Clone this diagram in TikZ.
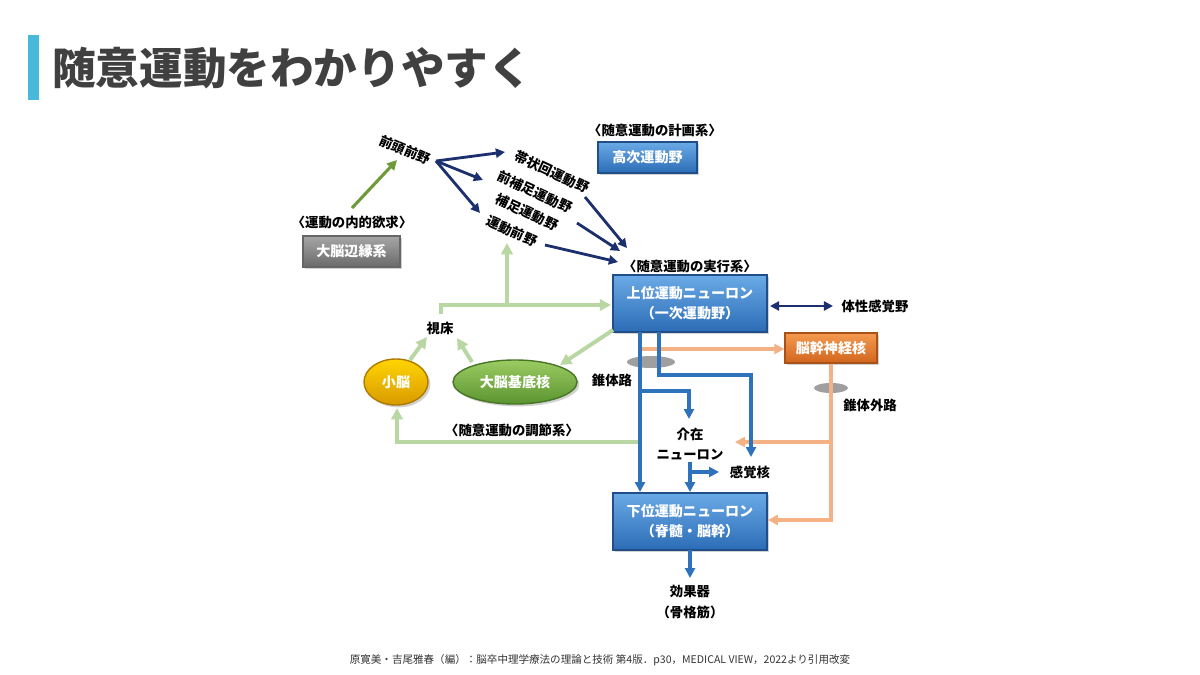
\documentclass[tikz,border=0pt]{standalone}
\usepackage{fontspec}
\setmainfont{Noto Sans CJK JP}
\usetikzlibrary{arrows.meta,shapes.geometric,shadows}
\definecolor{navy}{HTML}{1C2F6E}
\definecolor{bline}{HTML}{2E72BC}
\definecolor{oline}{HTML}{F4B183}
\definecolor{gline}{HTML}{B9D7A3}
\definecolor{dgreen}{HTML}{6E9A3A}
\definecolor{titlegray}{HTML}{404040}
\definecolor{barblue}{HTML}{48B9DA}
\definecolor{bordblue}{HTML}{1F4E89}
\definecolor{HTMLblueTop}{HTML}{6AAAE6}
\definecolor{HTMLblueBot}{HTML}{2C6CB6}
\definecolor{grayTop}{HTML}{A6A6A6}
\definecolor{grayBot}{HTML}{6A6A6A}
\definecolor{orTop}{HTML}{F49A50}
\definecolor{orBot}{HTML}{D2661E}
\definecolor{yeTop}{HTML}{FFD400}
\definecolor{yeBot}{HTML}{D89A00}
\definecolor{grTop}{HTML}{9CCB62}
\definecolor{grBot}{HTML}{5A9430}
\tikzset{
  lbl/.style={font=\fontsize{9.5}{11}\selectfont\bfseries, text=black, inner sep=1pt, align=center},
  rlbl/.style={lbl, inner sep=0pt},
  boxbase/.style={draw, line width=1pt, text=white, font=\fontsize{10}{14}\selectfont\bfseries, align=center, inner sep=0pt,
    drop shadow={opacity=0.35, shadow xshift=0.6mm, shadow yshift=-0.6mm}},
  bluebox/.style={boxbase, draw=bordblue, top color=HTMLblueTop, bottom color=HTMLblueBot},
  navyarr/.style={draw=navy, line width=2pt, -{Triangle[length=6.5pt,width=6.5pt]}},
  blarr/.style={draw=bline, line width=2.3pt, -{Triangle[length=7pt,width=7pt]}},
  orarr/.style={draw=oline, line width=2.3pt, -{Triangle[length=7pt,width=7pt]}},
  grarr/.style={draw=gline, line width=2.8pt, -{Triangle[length=8pt,width=8pt]}},
}
\begin{document}
\begin{tikzpicture}[x=0.025cm,y=-0.025cm]
\useasboundingbox (0,0) rectangle (1200,675);
\fill[white] (0,0) rectangle (1200,675);

% title
\fill[barblue] (28,35) rectangle (39,100);
\node[anchor=west, text=titlegray, font=\fontsize{31}{36}\selectfont\bfseries, inner sep=0pt] (title) at (52,68) {随意運動をわかりやすく};

% footer
\node[font=\fontsize{7.5}{9}\selectfont, text=black!80, inner sep=0pt] (foot) at (600,660) {原寛美・吉尾雅春（編）：脳卒中理学療法の理論と技術 第4版．p30，MEDICAL VIEW，2022より引用改変};

% boxes
\node[bluebox, minimum width=2.475cm, minimum height=0.775cm] (koji) at (647.5,157.5) {高次運動野};
\node[lbl] (keikaku) at (655,130) {〈随意運動の計画系〉};

\node[boxbase, draw=black!60, top color=grayTop, bottom color=grayBot, minimum width=2.425cm, minimum height=0.775cm] (hen) at (351.5,251.5) {大脳辺縁系};
\node[lbl] (yokkyu) at (352,222) {〈運動の内的欲求〉};

\node[bluebox, minimum width=3.85cm, minimum height=1.425cm] (upper) at (690,303.5) {上位運動ニューロン\\（一次運動野）};
\node[lbl] (jikko) at (690,266) {〈随意運動の実行系〉};

\node[bluebox, minimum width=3.85cm, minimum height=1.425cm] (lower) at (690,521.5) {下位運動ニューロン\\（脊髄・脳幹）};

\node[boxbase, draw=orBot!80!black, top color=orTop, bottom color=orBot, minimum width=2.3cm, minimum height=0.75cm] (nokan) at (831,348) {脳幹神経核};

\node[boxbase, ellipse, draw=yeBot!80!black, top color=yeTop, bottom color=yeBot, minimum width=1.6cm, minimum height=1.15cm] (shono) at (396,382) {小脳};
\node[boxbase, ellipse, draw=grBot!80!black, top color=grTop, bottom color=grBot, minimum width=3.1cm, minimum height=1.1cm] (kitei) at (515,382) {大脳基底核};

% labels
\node[rlbl, rotate=-23] (zento) at (405,150) {前頭前野};
\node[rlbl, rotate=-25] (taijo) at (552,172) {帯状回運動野};
\node[rlbl, rotate=-25] (zenho) at (535,192) {前補足運動野};
\node[rlbl, rotate=-25] (hosoku) at (527,212) {補足運動野};
\node[rlbl, rotate=-24] (zenya) at (512,231) {運動前野};
\node[lbl] (shisho) at (440,328) {視床};
\node[lbl] (suitai) at (612,380) {錐体路};
\node[lbl] (suigai) at (870,405) {錐体外路};
\node[lbl] (taisei) at (875,306) {体性感覚野};
\node[lbl, font=\fontsize{9.5}{14}\selectfont\bfseries] (kaizai) at (690,444) {介在\\ニューロン};
\node[lbl] (kankaku) at (750,472) {感覚核};
\node[lbl, font=\fontsize{9.5}{14.5}\selectfont\bfseries] (koka) at (690,602) {効果器\\（骨格筋）};
\node[lbl] (chosetsu) at (512,430) {〈随意運動の調節系〉};

% gray ellipses
\fill[gray, opacity=0.75] (651,362) ellipse [x radius=24, y radius=6];
\fill[gray, opacity=0.75] (831,388) ellipse [x radius=17, y radius=5];

% coordinates
\coordinate (fzo) at (436,161);
\coordinate (t1) at (505,152);
\coordinate (t2) at (483,180);
\coordinate (t3) at (480,213);
\coordinate (s1) at (585,197);
\coordinate (e1) at (627,248);
\coordinate (s2) at (577,223);
\coordinate (e2) at (620,251);
\coordinate (s3) at (545,245);
\coordinate (e3) at (618,262);
\coordinate (da) at (770,306);
\coordinate (db) at (833,306);
\coordinate (gs) at (352,208);
\coordinate (ge) at (397,160);

% navy arrows
\draw[navyarr] (fzo) -- (t1);
\draw[navyarr] (fzo) -- (t2);
\draw[navyarr] (fzo) -- (t3);
\draw[navyarr] (s1) -- (e1);
\draw[navyarr] (s2) -- (e2);
\draw[navyarr] (s3) -- (e3);
\draw[navyarr, {Triangle[length=6.5pt,width=6.5pt]}-{Triangle[length=6.5pt,width=6.5pt]}] (da) -- (db);

% dark green
\draw[draw=dgreen, line width=2.2pt, -{Triangle[length=7pt,width=7pt]}] (gs) -- (ge);

% light green
\coordinate (th0) at (441,314);
\coordinate (th1) at (441,305);
\coordinate (thj) at (507,305);
\coordinate (thu) at (611,305);
\coordinate (zy) at (507,243);
\draw[grarr] (th0) -- (th1) -- (thu);
\draw[grarr] (thj) -- (zy);
\coordinate (bg0) at (613,330);
\coordinate (bg1) at (560,365);
\draw[grarr] (bg0) -- (bg1);
\coordinate (sh0) at (410,360);
\coordinate (sh1) at (427,337);
\draw[grarr] (sh0) -- (sh1);
\coordinate (kt0) at (472,362);
\coordinate (kt1) at (457,338);
\draw[grarr] (kt0) -- (kt1);
\coordinate (ch0) at (640,442);
\coordinate (ch1) at (397,442);
\coordinate (ch2) at (397,408);
\draw[grarr] (ch0) -- (ch1) -- (ch2);

% orange
\coordinate (o0) at (642,349);
\draw[orarr] (o0) -- (nokan.west |- o0);
\coordinate (o1) at (831,520);
\coordinate (o2) at (768,520);
\coordinate (o3) at (831,442);
\coordinate (o4) at (735,442);
\draw[orarr] (nokan.south) -- (o1) -- (o2);
\draw[orarr] (o3) -- (o4);

% blue
\coordinate (b0) at (640,332);
\coordinate (b1) at (640,492);
\draw[blarr] (b0) -- (b1);
\coordinate (b2) at (640,391);
\coordinate (b3) at (689,391);
\coordinate (b4) at (689,419);
\draw[blarr] (b2) -- (b3) -- (b4);
\coordinate (c0) at (659,332);
\coordinate (c1) at (659,375);
\coordinate (c2) at (751,375);
\coordinate (c3) at (751,457);
\draw[blarr] (c0) -- (c1) -- (c2) -- (c3);
\coordinate (k0) at (690,462);
\coordinate (k1) at (690,492);
\coordinate (k2) at (690,472);
\coordinate (k3) at (719,472);
\draw[blarr] (k0) -- (k1);
\draw[blarr] (k2) -- (k3);
\coordinate (l0) at (690,550);
\coordinate (l1) at (690,578);
\draw[blarr] (l0) -- (l1);
\end{tikzpicture}
\end{document}
